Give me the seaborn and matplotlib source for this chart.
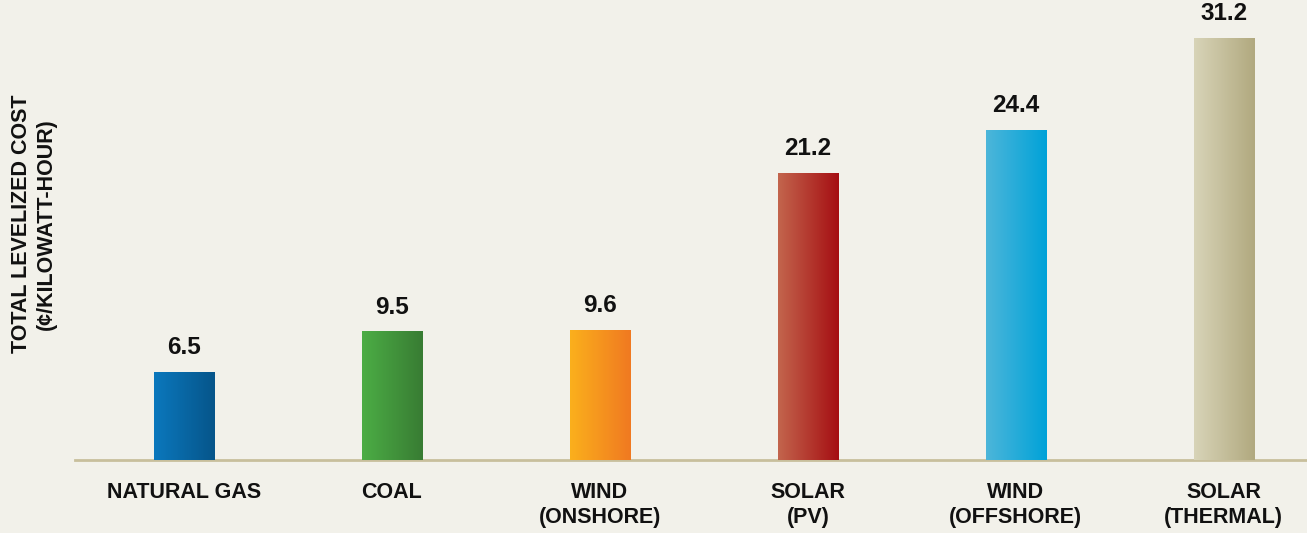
import numpy as np
import pandas as pd
import matplotlib
matplotlib.use("Agg")
import matplotlib.pyplot as plt
import seaborn as sns
from matplotlib.colors import LinearSegmentedColormap

categories = ["NATURAL GAS", "COAL", "WIND\n(ONSHORE)", "SOLAR\n(PV)", "WIND\n(OFFSHORE)", "SOLAR\n(THERMAL)"]
values = [6.5, 9.5, 9.6, 21.2, 24.4, 31.2]
value_labels = ["6.5", "9.5", "9.6", "21.2", "24.4", "31.2"]
grad_left = ["#0b78bd", "#4cad45", "#fbb01c", "#c3654d", "#4db6da", "#d8d4b8"]
grad_right = ["#06558a", "#387c33", "#f07921", "#a50e12", "#00a2d8", "#b1a97f"]

bg = "#f2f1ea"
sns.set_theme(style="white")
plt.rcParams['font.family'] = ['Liberation Sans', 'DejaVu Sans']

df = pd.DataFrame({"cat": categories, "val": values})
fig = plt.figure(figsize=(13.07, 5.33), dpi=100, facecolor=bg)
ax = fig.add_axes([75/1307, 73/533, 1 - 75/1307, 460/533])
ax.set_facecolor(bg)
sns.barplot(data=df, x="cat", y="val", ax=ax, width=0.29, color="white", saturation=1, linewidth=0)

ax.set_ylim(0, 34.0)
ax.set_xlim(-0.524, 5.4)

for i, p in enumerate(ax.patches):
    x0, y0 = p.get_x(), p.get_y()
    w, h = p.get_width(), p.get_height()
    cmap = LinearSegmentedColormap.from_list("g%d" % i, [grad_left[i], grad_right[i]])
    grad = np.linspace(0, 1, 256).reshape(1, -1)
    im = ax.imshow(grad, cmap=cmap, extent=[x0, x0 + w, y0, y0 + h], aspect="auto", zorder=3)
    im.set_clip_path(p)
    ax.text(x0 + w / 2, h + 0.95, value_labels[i], ha="center", va="bottom",
            fontsize=17.5, fontweight="bold", color="#111111")

ax.set_aspect("auto")
for s in ["top", "right", "left"]:
    ax.spines[s].set_visible(False)
ax.spines["bottom"].set_color("#c8bf9c")
ax.spines["bottom"].set_linewidth(2)
ax.set_yticks([])
ax.tick_params(axis="x", length=0, pad=16)
ax.set_xticks(range(len(categories)))
ax.set_xticklabels(categories, fontsize=15.5, fontweight="bold", color="#111111", linespacing=1.25, va="top")
ax.set_xlabel("")
ax.set_ylabel("")
fig.text(34/1307, 1 - 224/533, "TOTAL LEVELIZED COST\n(¢/KILOWATT-HOUR)", rotation=90,
         ha="center", va="center", fontsize=15.5, fontweight="bold", color="#111111", linespacing=1.2)

fig.savefig("out.png", dpi=100, facecolor=bg)
